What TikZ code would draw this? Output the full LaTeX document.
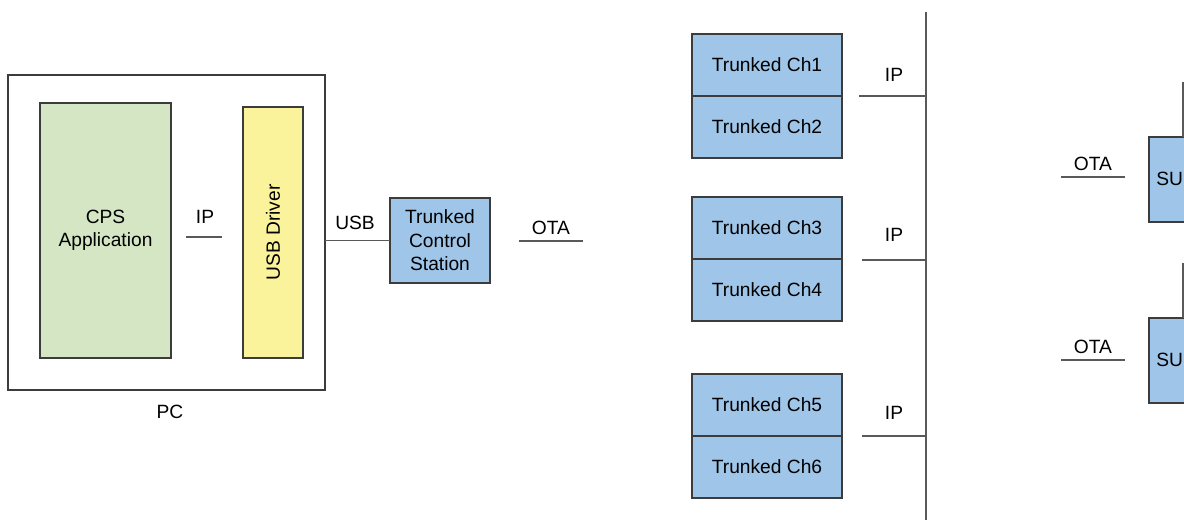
\documentclass[tikz,border=0pt]{standalone}
\usepackage{fontspec}
\setmainfont{Liberation Sans}
\usetikzlibrary{positioning}

\definecolor{chblue}{HTML}{9FC5E8}
\definecolor{appgreen}{HTML}{D5E6C4}
\definecolor{drvyellow}{HTML}{FBF39B}
\definecolor{edge}{HTML}{3C3C3C}

\tikzset{
  box/.style={draw=edge, line width=0.6pt, inner sep=0pt, outer sep=0pt, align=center},
  chbox/.style={box, fill=chblue, minimum width=75pt, minimum height=31pt},
  subox/.style={box, fill=chblue, minimum width=34pt, minimum height=42.5pt},
  wire/.style={draw=edge!85, line width=0.6pt},
}

\begin{document}
\begin{tikzpicture}[x=0.5pt,y=-0.5pt,font=\fontsize{9.6}{11.75}\selectfont]
\useasboundingbox (0,0) rectangle (1184,520);
\clip (0,0) rectangle (1184,520);

% Coordinates
\coordinate (bustop) at (926,12);
\coordinate (busbot) at (926,520);
\coordinate (ipa) at (186,237);
\coordinate (ipb) at (222,237);
\coordinate (otaL) at (519,241);
\coordinate (otaR) at (583,241);
\coordinate (ip1) at (859,96);
\coordinate (ip2) at (862,260);
\coordinate (ip3) at (862,436);
\coordinate (ota2L) at (1061,177);
\coordinate (ota2R) at (1125,177);
\coordinate (ota3L) at (1061,360);
\coordinate (ota3R) at (1125,360);
\coordinate (su1top) at (1183,82);
\coordinate (su2top) at (1183,263);

% PC
\node[box, minimum width=158.5pt, minimum height=157.5pt] (pc) at (166.5,232.5) {};
\node[box, fill=appgreen, minimum width=65.5pt, minimum height=127.5pt]
  (cps) at (105.5,230.5) {CPS\\Application};
\node[box, fill=drvyellow, rotate=90, minimum width=125.5pt, minimum height=30pt]
  (drv) at (273,232.5) {USB Driver};
\node (pclbl) at (170,412) {PC};
\node (ipapp) at (205,217) {IP};

% Control station
\node[box, fill=chblue, minimum width=50pt, minimum height=42.5pt]
  (tcs) at (440,240.5) {Trunked\\Control\\Station};
\node (usb) at (355,223) {USB};
\node (ota1) at (551,228) {OTA};

% Channels
\node[chbox] (ch1) at (767,65) {Trunked Ch1};
\node[chbox, below=0pt of ch1] (ch2) {Trunked Ch2};
\node[chbox] (ch3) at (767,228) {Trunked Ch3};
\node[chbox, below=0pt of ch3] (ch4) {Trunked Ch4};
\node[chbox] (ch5) at (767,405) {Trunked Ch5};
\node[chbox, below=0pt of ch5] (ch6) {Trunked Ch6};

% Dividers (fill of lower box hides the border)
\draw[draw=edge, line width=0.6pt] (ch2.north west) -- (ch2.north east);
\draw[draw=edge, line width=0.6pt] (ch4.north west) -- (ch4.north east);
\draw[draw=edge, line width=0.6pt] (ch6.north west) -- (ch6.north east);

\node (iplbl1) at (894,75) {IP};
\node (iplbl2) at (894,235) {IP};
\node (iplbl3) at (894,413) {IP};

% Subscriber units
\node[subox] (su1) at (1183,179.5) {};
\node[subox] (su2) at (1183,360.5) {};
\node[anchor=west, inner sep=0pt] (su1txt) at (1156,179) {SU};
\node[anchor=west, inner sep=0pt] (su2txt) at (1156,360) {SU};
\node (ota2) at (1093,164) {OTA};
\node (ota3) at (1093,347) {OTA};

% Lines
\draw[wire] (ipa) -- (ipb);
\draw[wire] (tcs.west) -- (tcs.west -| pc.east);
\draw[wire] (otaL) -- (otaR);
\draw[wire] (bustop) -- (busbot);
\draw[wire] (ip1) -- (ip1 -| bustop);
\draw[wire] (ip2) -- (ip2 -| bustop);
\draw[wire] (ip3) -- (ip3 -| bustop);
\draw[wire] (ota2L) -- (ota2R);
\draw[wire] (ota3L) -- (ota3R);
\draw[wire] (su1top) -- (su1.north);
\draw[wire] (su2top) -- (su2.north);

\end{tikzpicture}
\end{document}
